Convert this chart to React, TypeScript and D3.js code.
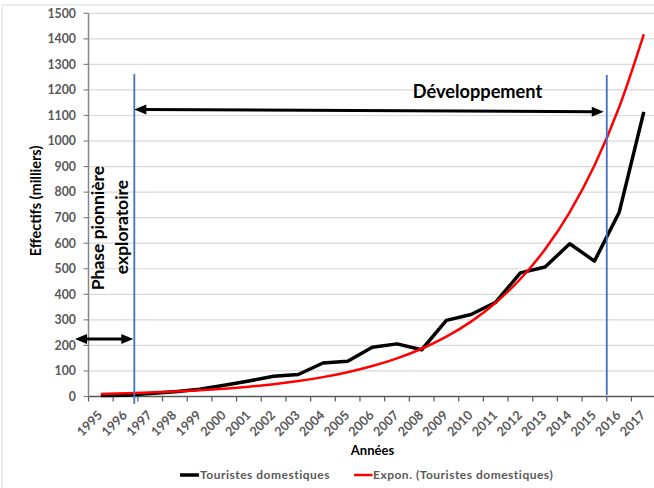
import React from "react";
import * as d3 from "d3";

const years = ["1995","1996","1997","1998","1999","2000","2001","2002","2003","2004","2005","2006","2007","2008","2009","2010","2011","2012","2013","2014","2015","2016","2017"];
const touristes = [4,5,12,19,28,44,61,79,86,131,138,193,206,183,298,321,369,484,507,598,530,720,1114];
const exponTrend = [10,12.5,15.7,19.6,24.6,30.8,38.6,48.4,60.6,75.9,95.1,119.1,149.2,186.9,234.1,293.2,367.2,460,576,722,904,1132,1418];
const yTicks = [0,100,200,300,400,500,600,700,800,900,1000,1100,1200,1300,1400,1500];
const seriesNames = ["Touristes domestiques", "Expon. (Touristes domestiques)"];

const W = 654, H = 488;
const FONT = "Lato, 'Open Sans', sans-serif";

export default function App() {
  const x = d3.scaleBand<string>().domain(years).range([88.5, 88.5 + 23 * 24.68]).paddingInner(0).paddingOuter(0);
  const bw = x.bandwidth();
  const cx = (y: string) => (x(y) as number) + bw / 2;
  const y = d3.scaleLinear().domain([0, 1500]).range([396.5, 13.3]);

  const line = d3.line<number>().x((_, i) => cx(years[i])).y((v) => y(v));
  const trend = d3.line<number>().x((_, i) => cx(years[i])).y((v) => y(v)).curve(d3.curveMonotoneX);

  const left = x.range()[0];
  const right = 660;
  const blueL = (x("1996") as number) + 0.856 * bw;
  const blueR = x("2016") as number;

  const arrowHead = (tipX: number, tipY: number, dir: number) => {
    const L = 12, Hh = 5;
    return `M${tipX},${tipY} L${tipX - dir * L},${tipY - Hh} L${tipX - dir * L},${tipY + Hh} Z`;
  };
  const devY1 = y(1123), devY2 = y(1115);
  const devX1 = blueL, devX2 = blueR - 3;
  const phY = y(225);
  const phX1 = 75, phX2 = blueL - 1;

  return (
    <div style={{ position: "absolute", left: 0, top: 0 }}>
      <svg width={W} height={H} style={{ display: "block", background: "#fff" }}>
        <rect x={2} y={5} width={W + 10} height={H + 10} fill="#fff" stroke="#d9d9d9" />
        {yTicks.filter((t) => t > 0).map((t) => (
          <line key={t} x1={left} x2={right} y1={y(t)} y2={y(t)} stroke="#d9d9d9" strokeWidth={1.2} />
        ))}
        <line x1={left} x2={left} y1={y(1500)} y2={y(0)} stroke="#868686" strokeWidth={1.5} />
        {yTicks.map((t) => (
          <g key={t}>
            <line x1={left - 5} x2={left} y1={y(t)} y2={y(t)} stroke="#868686" strokeWidth={1.2} />
            <text x={76} y={y(t) + 4.3} textAnchor="end" fontFamily={FONT} fontWeight="bold" fontSize={12.3} fill="#595959">{t}</text>
          </g>
        ))}
        <line x1={left} x2={right} y1={y(0)} y2={y(0)} stroke="#595959" strokeWidth={1.3} />
        {years.concat(["end"]).map((yr, i) => {
          const tx = left + i * bw;
          return <line key={"t" + i} x1={tx} x2={tx} y1={y(0)} y2={y(0) + 5} stroke="#595959" strokeWidth={1.2} />;
        })}
        {years.map((yr) => (
          <text key={yr} transform={`translate(${cx(yr) + 2.5},${416}) rotate(-45)`} textAnchor="end" fontFamily={FONT} fontWeight="bold" fontSize={12.8} fill="#595959">{yr}</text>
        ))}
        <text transform={`translate(40.5,201) rotate(-90)`} textAnchor="middle" fontFamily={FONT} fontWeight="bold" fontSize={14.5} fill="#000">Effectifs (milliers)</text>
        <text x={372.5} y={455} textAnchor="middle" fontFamily={FONT} fontWeight="bold" fontSize={13} fill="#000">Années</text>
        <path d={line(touristes) || ""} fill="none" stroke="#000" strokeWidth={3.5} strokeLinejoin="round" />
        <path d={trend(exponTrend) || ""} fill="none" stroke="#ff0000" strokeWidth={2.5} />
        <line x1={blueL} x2={blueL} y1={74} y2={404} stroke="#4472c4" strokeWidth={1.8} />
        <line x1={blueR} x2={blueR} y1={75} y2={395} stroke="#4472c4" strokeWidth={1.8} />
        <line x1={devX1 + 10} y1={devY1} x2={devX2 - 10} y2={devY2} stroke="#000" strokeWidth={3} />
        <path d={arrowHead(devX1, devY1, -1)} fill="#000" />
        <path d={arrowHead(devX2, devY2, 1)} fill="#000" />
        <text x={477.5} y={97.5} textAnchor="middle" fontFamily={FONT} fontWeight="bold" fontSize={18.2} fill="#000">Développement</text>
        <line x1={phX1 + 10} x2={phX2 - 10} y1={phY} y2={phY} stroke="#000" strokeWidth={3} />
        <path d={arrowHead(phX1, phY, -1)} fill="#000" />
        <path d={arrowHead(phX2, phY, 1)} fill="#000" />
        <text transform={`translate(103.5,228) rotate(-90)`} textAnchor="middle" fontFamily={FONT} fontWeight="bold" fontSize={17.5} fill="#000">Phase pionnière</text>
        <text transform={`translate(128,227) rotate(-90)`} textAnchor="middle" fontFamily={FONT} fontWeight="bold" fontSize={17.5} fill="#000">exploratoire</text>
        <line x1={180} x2={199} y1={475} y2={475} stroke="#000" strokeWidth={3.5} />
        <text x={200} y={479} fontFamily={FONT} fontWeight="bold" fontSize={12} fill="#595959" letterSpacing={0.5}>{seriesNames[0]}</text>
        <line x1={354} x2={372.5} y1={475} y2={475} stroke="#ff0000" strokeWidth={2.5} />
        <text x={373} y={479} fontFamily={FONT} fontWeight="bold" fontSize={12} fill="#595959" letterSpacing={0.5}>{seriesNames[1]}</text>
      </svg>
    </div>
  );
}
